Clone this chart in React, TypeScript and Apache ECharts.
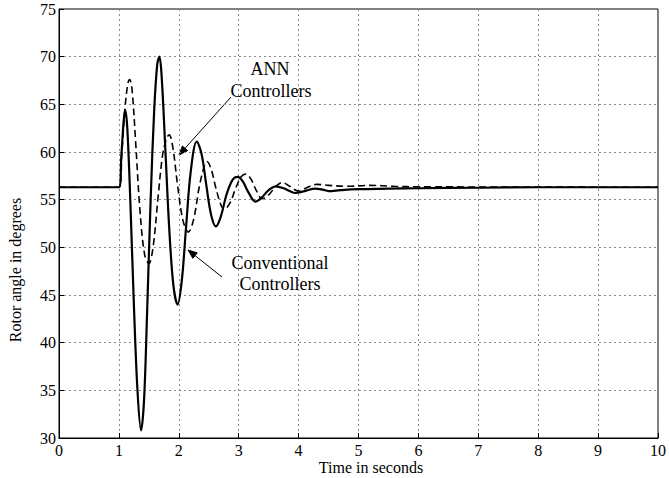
import React, { useEffect, useRef } from "react";
import * as echarts from "echarts";

// Time (s) and rotor angle (deg) for conventional controllers (solid)
const convTime = [0, 1.0, 1.04, 1.08, 1.105, 1.14, 1.19, 1.25, 1.31, 1.37, 1.42, 1.47, 1.53, 1.59, 1.64, 1.675, 1.71, 1.77, 1.84, 1.91, 1.98, 2.05, 2.12, 2.2, 2.3, 2.38, 2.46, 2.54, 2.62, 2.7, 2.8, 2.9, 2.98, 3.06, 3.16, 3.28, 3.38, 3.5, 3.62, 3.75, 3.85, 3.95, 4.1, 4.28, 4.4, 4.5, 4.7, 5.0, 5.5, 6.0, 7.0, 8.0, 10];
const convAngle = [56.3, 56.3, 59.5, 63.3, 64.4, 62.5, 55, 44, 35, 30.8, 34, 43, 55, 64.5, 69.2, 70, 68.3, 61, 52, 46, 44, 46.5, 52, 58, 61.1, 59.8, 56.5, 53.4, 52.2, 53.2, 55.6, 57.1, 57.4, 57, 55.8, 54.8, 55.2, 56, 56.4, 56.2, 55.9, 55.7, 55.9, 56.15, 56.05, 55.9, 56.0, 56.1, 56.15, 56.2, 56.25, 56.3, 56.3];

// Time (s) and rotor angle (deg) for ANN controllers (dashed)
const annTime = [0, 1.0, 1.05, 1.1, 1.15, 1.18, 1.22, 1.28, 1.35, 1.43, 1.5, 1.57, 1.65, 1.73, 1.8, 1.84, 1.9, 1.98, 2.07, 2.16, 2.25, 2.34, 2.42, 2.47, 2.54, 2.62, 2.7, 2.76, 2.85, 2.95, 3.04, 3.12, 3.2, 3.3, 3.39, 3.5, 3.62, 3.73, 3.85, 4.0, 4.15, 4.3, 4.5, 4.8, 5.2, 5.6, 6.0, 10];
const annAngle = [56.3, 56.3, 60, 64.5, 67.2, 67.6, 66.5, 61, 54, 49.2, 48.3, 50, 55, 59.7, 61.5, 61.8, 60.5, 56.5, 52.8, 51.6, 53, 56.3, 58.4, 59, 58.2, 56.2, 54.5, 54, 54.6, 56.2, 57.4, 57.7, 57.2, 55.9, 55.1, 55.5, 56.4, 56.8, 56.4, 55.9, 56.3, 56.6, 56.5, 56.4, 56.5, 56.4, 56.35, 56.3];

const xTicks = [0, 10, 1];
const yTicks = [30, 75, 5];

const FONT = "Liberation Serif";

function arrow(x1: number, y1: number, x2: number, y2: number) {
  const ang = Math.atan2(y2 - y1, x2 - x1);
  const len = 9;
  const half = 3.5;
  const bx = x2 - len * Math.cos(ang);
  const by = y2 - len * Math.sin(ang);
  const px = -Math.sin(ang) * half;
  const py = Math.cos(ang) * half;
  return [
    { type: "line", shape: { x1, y1, x2: bx, y2: by }, style: { stroke: "#000", lineWidth: 1 } },
    {
      type: "polygon",
      shape: { points: [[x2, y2], [bx + px, by + py], [bx - px, by - py]] },
      style: { fill: "#000", stroke: "#000", lineWidth: 1 },
    },
  ];
}

export default function App() {
  const ref = useRef<HTMLDivElement>(null);
  useEffect(() => {
    if (!ref.current) return;
    const chart = echarts.init(ref.current, undefined, { renderer: "svg" });
    const conv = convTime.map((t, i) => [t, convAngle[i]]);
    const ann = annTime.map((t, i) => [t, annAngle[i]]);
    const split = { show: true, lineStyle: { color: "#8a8a8a", type: [2, 3] as any, width: 1 } };
    const label = { color: "#000", fontFamily: FONT, fontSize: 16 };
    chart.setOption({
      animation: false,
      backgroundColor: "#fff",
      grid: { left: 59, right: 9, top: 9, bottom: 40, show: true, borderColor: "#000", borderWidth: 1, containLabel: false },
      xAxis: {
        type: "value",
        min: xTicks[0],
        max: xTicks[1],
        interval: xTicks[2],
        axisLine: { show: true, lineStyle: { color: "#000", width: 1 } },
        axisTick: { show: true, inside: true, length: 5, lineStyle: { color: "#000" } },
        axisLabel: { ...label, margin: 4, lineHeight: 16 },
        splitLine: split,
      },
      yAxis: {
        type: "value",
        min: yTicks[0],
        max: yTicks[1],
        interval: yTicks[2],
        axisLine: { show: true, lineStyle: { color: "#000", width: 1 } },
        axisTick: { show: true, inside: true, length: 5, lineStyle: { color: "#000" } },
        axisLabel: { ...label, margin: 3 },
        splitLine: split,
      },
      series: [
        {
          name: "ANN Controllers",
          type: "line",
          data: ann,
          showSymbol: false,
          smooth: 0.35,
          lineStyle: { color: "#000", width: 1.6, type: [7, 4] as any },
          z: 3,
        },
        {
          name: "Conventional Controllers",
          type: "line",
          data: conv,
          showSymbol: false,
          smooth: 0.35,
          lineStyle: { color: "#000", width: 2.2 },
          z: 4,
        },
      ],
      graphic: [
        { type: "text", x: 371, y: 467, style: { text: "Time in seconds", font: `16px "${FONT}"`, fill: "#000", align: "center", verticalAlign: "middle" } },
        { type: "text", x: 15, y: 270, rotation: Math.PI / 2, style: { text: "Rotor angle in degrees", font: `16px "${FONT}"`, fill: "#000", align: "center", verticalAlign: "middle" } },
        { type: "text", x: 270, y: 69, style: { text: "ANN", font: `18px "${FONT}"`, fill: "#000", align: "center", verticalAlign: "middle" } },
        { type: "text", x: 271, y: 91, style: { text: "Controllers", font: `18px "${FONT}"`, fill: "#000", align: "center", verticalAlign: "middle" } },
        { type: "text", x: 280, y: 263, style: { text: "Conventional", font: `18px "${FONT}"`, fill: "#000", align: "center", verticalAlign: "middle" } },
        { type: "text", x: 280, y: 284, style: { text: "Controllers", font: `18px "${FONT}"`, fill: "#000", align: "center", verticalAlign: "middle" } },
        ...arrow(231, 97, 179, 155),
        ...arrow(222, 277, 188, 250),
      ],
    });
    return () => chart.dispose();
  }, []);
  return <div ref={ref} style={{ position: "fixed", left: 0, top: 0, width: 669, height: 478, background: "#fff" }} />;
}
